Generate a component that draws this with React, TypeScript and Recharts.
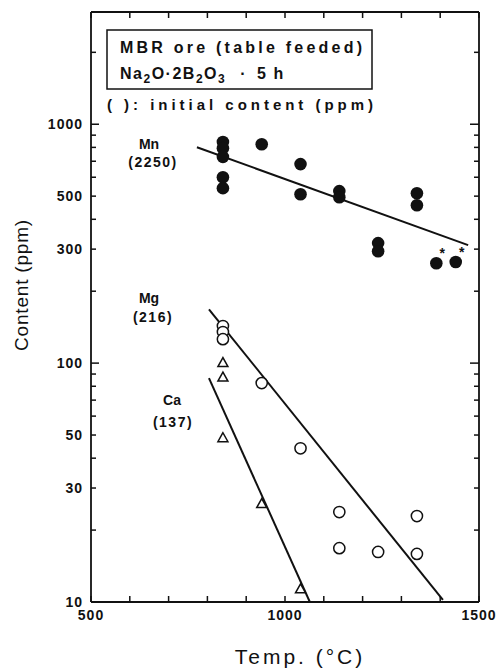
import React from "react";
import { ScatterChart, Scatter, XAxis, YAxis } from "recharts";

// axis ticks
const xTicks = [500, 600, 700, 800, 900, 1000, 1100, 1200, 1300, 1400, 1500];
const xLabels = [500, 1000, 1500];
const yTicks = [10, 20, 30, 40, 50, 60, 70, 80, 90, 100, 200, 300, 400, 500, 600, 700, 800, 900, 1000, 2000];
const yLabels = [10, 30, 50, 100, 300, 500, 1000];
const yMajor = [10, 100, 1000];

// Mn (filled circles), star = marked point
const mnTemp = [840, 840, 840, 840, 840, 940, 1040, 1040, 1140, 1140, 1240, 1240, 1340, 1340, 1390, 1440];
const mnContent = [843, 794, 730, 600, 540, 825, 681, 509, 525, 495, 318, 294, 514, 458, 262, 265];
const mnStar = [0, 0, 0, 0, 0, 0, 0, 0, 0, 0, 0, 0, 0, 0, 1, 1];

// Mg (open circles)
const mgTemp = [840, 840, 840, 940, 1040, 1140, 1140, 1240, 1340, 1340];
const mgContent = [143, 135, 126, 82.5, 44, 23.8, 16.8, 16.2, 22.9, 15.9];

// Ca (triangles)
const caTemp = [840, 840, 840, 940, 1040];
const caContent = [100, 87, 48.5, 25.7, 11.3];

// fitted lines
const mnFitTemp = [773, 1472];
const mnFitContent = [801, 312];
const mgFitTemp = [804, 1407];
const mgFitContent = [168, 10.2];
const caFitTemp = [804, 1064];
const caFitContent = [86.5, 10];

const zip = (xs: number[], ys: number[], extra?: number[]) =>
  xs.map((x, i) => ({ x, y: ys[i], star: extra ? extra[i] : 0 }));

const mnData = zip(mnTemp, mnContent, mnStar);
const mgData = zip(mgTemp, mgContent);
const caData = zip(caTemp, caContent);
const mnFit = zip(mnFitTemp, mnFitContent);
const mgFit = zip(mgFitTemp, mgFitContent);
const caFit = zip(caFitTemp, caFitContent);

const FONT = "'Liberation Sans', Arial, sans-serif";
const INK = "#111";

const BottomTick = (props: any) => {
  const { x, y, payload } = props;
  const v = payload.value;
  return (
    <g>
      <line x1={x} y1={y} x2={x} y2={y - 6} stroke={INK} strokeWidth={1.5} />
      {xLabels.includes(v) && (
        <text x={x} y={y + 18} textAnchor="middle" fontFamily={FONT} fontWeight="bold" fontSize={14} letterSpacing={1} fill={INK}>
          {v}
        </text>
      )}
    </g>
  );
};

const TopTick = (props: any) => {
  const { x, y } = props;
  return <line x1={x} y1={y} x2={x} y2={y + 6} stroke={INK} strokeWidth={1.5} />;
};

const LeftTick = (props: any) => {
  const { x, y, payload } = props;
  const v = payload.value;
  const len = yMajor.includes(v) ? 8 : 5;
  return (
    <g>
      <line x1={x} y1={y} x2={x + len} y2={y} stroke={INK} strokeWidth={1.5} />
      {yLabels.includes(v) && (
        <text x={x - 8} y={y + 5} textAnchor="end" fontFamily={FONT} fontWeight="bold" fontSize={14} letterSpacing={1} fill={INK}>
          {v}
        </text>
      )}
    </g>
  );
};

const RightTick = (props: any) => {
  const { x, y, payload } = props;
  const len = yMajor.includes(payload.value) ? 9 : 5;
  return <line x1={x} y1={y} x2={x - len} y2={y} stroke={INK} strokeWidth={1.5} />;
};

const FilledDot = (props: any) => {
  const { cx, cy, payload } = props;
  return (
    <g>
      <circle cx={cx} cy={cy} r={6.3} fill={INK} />
      {payload.star ? (
        <text x={cx + 6} y={cy - 5} fontFamily={FONT} fontWeight="bold" fontSize={14} fill={INK} textAnchor="middle">
          *
        </text>
      ) : null}
    </g>
  );
};

const OpenDot = (props: any) => {
  const { cx, cy } = props;
  return <circle cx={cx} cy={cy} r={5.6} fill="#fff" stroke={INK} strokeWidth={1.5} />;
};

const Triangle = (props: any) => {
  const { cx, cy } = props;
  return (
    <path
      d={`M${cx},${cy - 5.5} L${cx - 5},${cy + 3.5} L${cx + 5},${cy + 3.5} Z`}
      fill="#fff"
      stroke={INK}
      strokeWidth={1.5}
    />
  );
};

const NoDot = () => <g />;

const axisLine = { stroke: INK, strokeWidth: 1.8 };

export default function App() {
  return (
    <div style={{ position: "absolute", left: 0, top: 0, width: 504, height: 671, background: "#fff" }}>
      <ScatterChart width={504} height={671} margin={{ top: 11, right: 24, bottom: 0, left: 0 }}>
        <XAxis
          xAxisId="b"
          type="number"
          dataKey="x"
          domain={[500, 1500]}
          ticks={xTicks}
          interval={0}
          height={69}
          tickSize={0}
          tickMargin={0}
          tickLine={false}
          axisLine={axisLine}
          tick={<BottomTick />}
          allowDataOverflow
        />
        <XAxis
          xAxisId="t"
          orientation="top"
          type="number"
          dataKey="x"
          domain={[500, 1500]}
          ticks={xTicks}
          interval={0}
          height={1}
          tickSize={0}
          tickMargin={0}
          tickLine={false}
          axisLine={axisLine}
          tick={<TopTick />}
          allowDataOverflow
        />
        <YAxis
          yAxisId="l"
          type="number"
          dataKey="y"
          scale="log"
          domain={[10, 2950]}
          ticks={yTicks}
          interval={0}
          width={91}
          tickSize={0}
          tickMargin={0}
          tickLine={false}
          axisLine={axisLine}
          tick={<LeftTick />}
          allowDataOverflow
        />
        <YAxis
          yAxisId="r"
          orientation="right"
          type="number"
          dataKey="y"
          scale="log"
          domain={[10, 2950]}
          ticks={yTicks}
          interval={0}
          width={1}
          tickSize={0}
          tickMargin={0}
          tickLine={false}
          axisLine={axisLine}
          tick={<RightTick />}
          allowDataOverflow
        />

        {/* fitted lines */}
        <Scatter xAxisId="b" yAxisId="l" data={mnFit} line={{ stroke: INK, strokeWidth: 2 }} shape={<NoDot />} isAnimationActive={false} />
        <Scatter xAxisId="b" yAxisId="l" data={mgFit} line={{ stroke: INK, strokeWidth: 2 }} shape={<NoDot />} isAnimationActive={false} />
        <Scatter xAxisId="b" yAxisId="l" data={caFit} line={{ stroke: INK, strokeWidth: 2 }} shape={<NoDot />} isAnimationActive={false} />
        {/* hidden series to bind mirror axes */}
        <Scatter xAxisId="t" yAxisId="r" data={mnFit} shape={<NoDot />} isAnimationActive={false} />

        {/* measured points */}
        <Scatter xAxisId="b" yAxisId="l" data={mnData} shape={<FilledDot />} isAnimationActive={false} />
        <Scatter xAxisId="b" yAxisId="l" data={mgData} shape={<OpenDot />} isAnimationActive={false} />
        <Scatter xAxisId="b" yAxisId="l" data={caData} shape={<Triangle />} isAnimationActive={false} />

        {/* header box */}
        <rect x={107} y={30} width={265} height={59} fill="#fff" stroke={INK} strokeWidth={1.5} />
        <text x={120} y={53} fontFamily={FONT} fontWeight="bold" fontSize={16} fill={INK} textLength={242} lengthAdjust="spacing">
          MBR ore (table feeded)
        </text>
        <text x={120} y={79} fontFamily={FONT} fontWeight="bold" fontSize={16} fill={INK} letterSpacing={1.5}>
          Na<tspan fontSize={12} dy={4}>2</tspan>
          <tspan dy={-4}>O·2B</tspan>
          <tspan fontSize={12} dy={4}>2</tspan>
          <tspan dy={-4}>O</tspan>
          <tspan fontSize={12} dy={4}>3</tspan>
          <tspan dy={-4} dx={14}>·</tspan>
          <tspan dx={10}>5 h</tspan>
        </text>
        <text x={107} y={110} fontFamily={FONT} fontWeight="bold" fontSize={15} fill={INK} textLength={266} lengthAdjust="spacing">
          ( ): initial content (ppm)
        </text>

        {/* series annotations */}
        <text x={149} y={149} textAnchor="middle" fontFamily={FONT} fontWeight="bold" fontSize={14} fill={INK}>Mn</text>
        <text x={153} y={167} textAnchor="middle" fontFamily={FONT} fontWeight="bold" fontSize={14} letterSpacing={1.5} fill={INK}>(2250)</text>
        <text x={149} y={303} textAnchor="middle" fontFamily={FONT} fontWeight="bold" fontSize={14} fill={INK}>Mg</text>
        <text x={153} y={322} textAnchor="middle" fontFamily={FONT} fontWeight="bold" fontSize={14} letterSpacing={1.5} fill={INK}>(216)</text>
        <text x={172} y={405} textAnchor="middle" fontFamily={FONT} fontWeight="bold" fontSize={14} fill={INK}>Ca</text>
        <text x={173} y={427} textAnchor="middle" fontFamily={FONT} fontWeight="bold" fontSize={14} letterSpacing={1.5} fill={INK}>(137)</text>

        {/* axis titles */}
        <text x={300} y={664} textAnchor="middle" fontFamily={FONT} fontSize={21} fill={INK} letterSpacing={3}>
          Temp. (°C)
        </text>
        <text
          x={28}
          y={285}
          textAnchor="middle"
          fontFamily={FONT}
          fontSize={19}
          fill={INK}
          letterSpacing={0.8}
          transform="rotate(-90 28 285)"
        >
          Content (ppm)
        </text>
      </ScatterChart>
    </div>
  );
}
